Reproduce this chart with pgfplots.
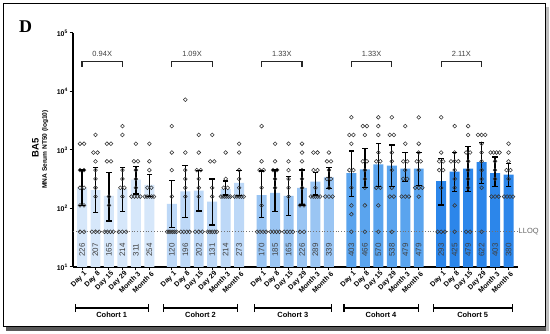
\documentclass[border=0pt]{standalone}
\usepackage{pgfplots}
\pgfplotsset{compat=1.18}
\usepackage{fontspec}
\setmainfont{Liberation Sans}
\newfontfamily\serifD{Liberation Serif}
\usetikzlibrary{arrows.meta}
\definecolor{cA}{HTML}{D6E7FA}
\definecolor{cB}{HTML}{BDD8F7}
\definecolor{cC}{HTML}{9AC5F3}
\definecolor{cD}{HTML}{5AA4EE}
\definecolor{cE}{HTML}{2C86EA}
\begin{document}
\begin{tikzpicture}
\useasboundingbox (0bp,0bp) rectangle (550bp,334bp);
\fill[black!65] (6bp,3bp) rectangle (548bp,7bp);
\fill[black!25] (545.5bp,3bp) rectangle (548.5bp,327bp);
\draw[line width=1bp, fill=white] (3.5bp,7bp) rectangle (545.5bp,330bp);
\node[anchor=base west, font=\serifD\bfseries\fontsize{18}{18}\selectfont, inner sep=0pt] at (19bp,301bp) {D};
\node[rotate=90, font=\bfseries\fontsize{9.5}{10}\selectfont, inner sep=0pt] at (35.5bp,186bp) {BA5};
\node[rotate=90, font=\bfseries\fontsize{6.6}{7}\selectfont, inner sep=0pt] at (45.2bp,184.5bp) {MNA Serum NT50 (log10)};
\begin{axis}[
  at={(73bp,67bp)}, anchor=south west, scale only axis,
  width=445bp, height=234bp,
  ymode=log, ymin=10, ymax=100000, xmin=-0.67, xmax=32.37,
  log origin=infty,
  axis lines=left, axis line style={line width=1.3bp, -},
  clip=false, yminorticks=false,
  tick align=outside, major tick length=3.5bp,
  tick style={line width=1bp, black},
  ytick={10,100,1000,10000,100000},
  yticklabels={10\textsuperscript{1},10\textsuperscript{2},10\textsuperscript{3},10\textsuperscript{4},10\textsuperscript{5}},
  yticklabel style={font=\bfseries\fontsize{7}{8}\selectfont, inner sep=1.5bp},
  xtick={0,1,2,3,4,5,6.667,7.667,8.667,9.667,10.667,11.667,13.333,14.333,15.333,16.333,17.333,18.333,20,21,22,23,24,25,26.667,27.667,28.667,29.667,30.667,31.667},
  xticklabels={Day 1,Day 8,Day 15,Day 29,Month 3,Month 6,Day 1,Day 8,Day 15,Day 29,Month 3,Month 6,Day 1,Day 8,Day 15,Day 29,Month 3,Month 6,Day 1,Day 8,Day 15,Day 29,Month 3,Month 6,Day 1,Day 8,Day 15,Day 29,Month 3,Month 6},
  xticklabel style={rotate=45, anchor=north east, font=\bfseries\fontsize{7}{8}\selectfont, inner sep=1bp, xshift=2bp},
]
% bars
\addplot[ybar, bar width=0.74, bar shift=0pt, fill=cA, draw=none] coordinates {(0,226) (1,207) (2,165) (3,214) (4,311) (5,254)};
\addplot[ybar, bar width=0.74, bar shift=0pt, fill=cB, draw=none] coordinates {(6.667,120) (7.667,196) (8.667,202) (9.667,131) (10.667,214) (11.667,273)};
\addplot[ybar, bar width=0.74, bar shift=0pt, fill=cC, draw=none] coordinates {(13.333,170) (14.333,185) (15.333,165) (16.333,226) (17.333,289) (18.333,339)};
\addplot[ybar, bar width=0.74, bar shift=0pt, fill=cD, draw=none] coordinates {(20,403) (21,466) (22,570) (23,538) (24,479) (25,479)};
\addplot[ybar, bar width=0.74, bar shift=0pt, fill=cE, draw=none] coordinates {(26.667,293) (27.667,425) (28.667,479) (29.667,622) (30.667,403) (31.667,380)};
% LLOQ
\addplot[black!55, dotted, line width=0.8bp] coordinates {(-0.67,40) (32.37,40)};
\node[anchor=west, inner sep=0.5bp, font=\fontsize{7.5}{8}\selectfont, text=black!60] at (axis cs:32.37,40) {LLOQ};
% individual points
\pgfplotsset{every axis plot/.append style={}}
\addplot[only marks, mark=o, mark size=1.9bp, mark options={line width=0.55bp, draw=black!80}] coordinates {
(-0.15,1280)(0.15,1280)(-0.15,453)(0.15,453)(-0.15,226)(0.15,226)(-0.15,113)(0.15,113)(-0.15,40)(0.15,40)
(1,1810)(0.85,905)(1.15,905)(1,640)(1,453)(1,320)(1,226)(1,160)(0.73,40)(1,40)(1.27,40)
(1.85,1280)(2.15,1280)(1.85,640)(2.15,640)(2,160)(2,113)(1.67,40)(1.89,40)(2.11,40)(2.33,40)
(3,2560)(3,1810)(3,453)(3,320)(2.85,226)(3.15,226)(3,160)(2.73,40)(3,40)(3.27,40)
(4,1280)(3.85,640)(4.15,640)(4,453)(4,320)(4,226)(3.67,160)(3.89,160)(4.11,160)(4.33,160)
(5,1280)(5,640)(5,453)(4.85,226)(5.15,226)(4.66,160)(4.83,160)(5,160)(5.17,160)(5.34,160)
};
\addplot[only marks, mark=o, mark size=1.9bp, mark options={line width=0.55bp, draw=black!80}] coordinates {
(6.667,2560)(6.667,905)(6.667,453)(6.667,160)(6.317,40)(6.457,40)(6.597,40)(6.737,40)(6.877,40)(7.017,40)
(7.667,7240)(7.667,905)(7.667,453)(7.667,320)(7.667,226)(7.667,160)(7.337,40)(7.557,40)(7.777,40)(7.997,40)
(8.667,1810)(8.667,905)(8.517,453)(8.817,453)(8.667,320)(8.667,226)(8.667,160)(8.397,40)(8.667,40)(8.937,40)
(9.667,1810)(9.517,640)(9.817,640)(9.667,226)(9.667,160)(9.327,40)(9.497,40)(9.667,40)(9.837,40)(10.007,40)
(10.667,905)(10.667,320)(10.517,226)(10.817,226)(10.317,160)(10.457,160)(10.597,160)(10.737,160)(10.877,160)(11.017,160)
(11.667,1280)(11.667,905)(11.667,453)(11.667,320)(11.667,226)(11.327,160)(11.497,160)(11.667,160)(11.837,160)(12.007,160)
};
\addplot[only marks, mark=o, mark size=1.9bp, mark options={line width=0.55bp, draw=black!80}] coordinates {
(13.333,2560)(13.333,640)(13.183,453)(13.483,453)(13.333,226)(13.333,113)(13.003,40)(13.223,40)(13.443,40)(13.663,40)
(14.333,1280)(14.333,640)(14.183,453)(14.483,453)(14.333,320)(14.333,226)(14.003,40)(14.223,40)(14.443,40)(14.663,40)
(15.333,1280)(15.333,640)(15.333,453)(15.333,320)(15.333,226)(15.333,160)(15.003,40)(15.223,40)(15.443,40)(15.663,40)
(16.333,1280)(16.333,905)(16.333,640)(16.333,453)(16.333,320)(16.333,226)(16.183,113)(16.483,113)(16.183,40)(16.483,40)
(17.183,905)(17.483,905)(17.183,453)(17.483,453)(17.333,226)(16.993,160)(17.163,160)(17.333,160)(17.503,160)(17.673,160)
(18.333,905)(18.183,640)(18.483,640)(18.333,453)(18.183,320)(18.483,320)(18.333,226)(18.063,160)(18.333,160)(18.603,160)
};
\addplot[only marks, mark=o, mark size=1.9bp, mark options={line width=0.55bp, draw=black!80}] coordinates {
(20,3620)(19.85,1810)(20.15,1810)(20,1280)(19.85,453)(20.15,453)(20,226)(20,113)(20,80)(20,40)
(20.85,2560)(21.15,2560)(21,1810)(20.85,640)(21.15,640)(21,453)(21,320)(21,226)(21,113)(21,40)
(22,3620)(22,2560)(22,1810)(22,905)(21.85,640)(22.15,640)(21.85,226)(22.15,226)(22,113)(22,40)
(23,3620)(22.85,1810)(23.15,1810)(23,905)(23,640)(23,453)(23,226)(22.85,160)(23.15,160)(23,40)
(24,2560)(24,1280)(23.85,640)(24.15,640)(24,453)(23.85,320)(24.15,320)(23.73,160)(24,160)(24.27,160)
(25,3620)(25,1280)(25,905)(24.85,640)(25.15,640)(25,453)(24.73,226)(25,226)(25.27,226)(25,160)
};
\addplot[only marks, mark=o, mark size=1.9bp, mark options={line width=0.55bp, draw=black!80}] coordinates {
(26.667,3620)(26.667,905)(26.517,640)(26.817,640)(26.517,453)(26.817,453)(26.667,226)(26.397,40)(26.667,40)(26.937,40)
(27.667,2560)(27.667,905)(27.397,640)(27.667,640)(27.937,640)(27.667,453)(27.667,320)(27.667,226)(27.667,113)(27.667,40)
(28.667,2560)(28.667,1810)(28.517,905)(28.817,905)(28.667,640)(28.667,453)(28.667,320)(28.667,226)(28.517,40)(28.817,40)
(29.397,1810)(29.667,1810)(29.937,1810)(29.667,1280)(29.667,905)(29.667,640)(29.667,453)(29.667,320)(29.667,226)(29.667,40)
(30.337,905)(30.557,905)(30.777,905)(30.997,905)(30.667,640)(30.667,453)(30.667,320)(30.397,160)(30.667,160)(30.937,160)
(31.667,1280)(31.667,905)(31.667,640)(31.517,453)(31.817,453)(31.667,320)(31.337,160)(31.557,160)(31.777,160)(31.997,160)
};
% error bars
\pgfplotsset{eb/.style={black, line width=1.3bp, mark=-, mark size=2.8bp, mark options={line width=1.3bp, solid}}}
\addplot[eb] coordinates {(0,113) (0,455)};
\addplot[eb] coordinates {(1,85) (1,498)};
\addplot[eb] coordinates {(2,61) (2,416)};
\addplot[eb] coordinates {(3,88) (3,498)};
\addplot[eb] coordinates {(4,177) (4,519)};
\addplot[eb] coordinates {(5,160) (5,384)};
\addplot[eb] coordinates {(6.667,47) (6.667,303)};
\addplot[eb] coordinates {(7.667,70) (7.667,537)};
\addplot[eb] coordinates {(8.667,91) (8.667,451)};
\addplot[eb] coordinates {(9.667,52) (9.667,320)};
\addplot[eb] coordinates {(10.667,170) (10.667,295)};
\addplot[eb] coordinates {(11.667,166) (11.667,451)};
\addplot[eb] coordinates {(13.333,70) (13.333,437)};
\addplot[eb] coordinates {(14.333,88) (14.333,453)};
\addplot[eb] coordinates {(15.333,75) (15.333,350)};
\addplot[eb] coordinates {(16.333,115) (16.333,453)};
\addplot[eb] coordinates {(17.333,170) (17.333,416)};
\addplot[eb] coordinates {(18.333,221) (18.333,499)};
\addplot[eb] coordinates {(20,160) (20,961)};
\addplot[eb] coordinates {(21,230) (21,1070)};
\addplot[eb] coordinates {(22,240) (22,1300)};
\addplot[eb] coordinates {(23,236) (23,1216)};
\addplot[eb] coordinates {(24,290) (24,905)};
\addplot[eb] coordinates {(25,245) (25,905)};
\addplot[eb] coordinates {(26.667,115) (26.667,721)};
\addplot[eb] coordinates {(27.667,194) (27.667,905)};
\addplot[eb] coordinates {(28.667,194) (28.667,1137)};
\addplot[eb] coordinates {(29.667,269) (29.667,1333)};
\addplot[eb] coordinates {(30.667,240) (30.667,760)};
\addplot[eb] coordinates {(31.667,236) (31.667,593)};
% value labels
\addplot[draw=none, mark=none, point meta=explicit symbolic, nodes near coords,
  every node near coord/.append style={rotate=90, anchor=center, font=\fontsize{8}{8}\selectfont, text=black!75, inner sep=0pt}]
coordinates {(0,19.5)[226] (1,19.5)[207] (2,19.5)[165] (3,19.5)[214] (4,19.5)[311] (5,19.5)[254]
(6.667,19.5)[120] (7.667,19.5)[196] (8.667,19.5)[202] (9.667,19.5)[131] (10.667,19.5)[214] (11.667,19.5)[273]
(13.333,19.5)[170] (14.333,19.5)[185] (15.333,19.5)[165] (16.333,19.5)[226] (17.333,19.5)[289] (18.333,19.5)[339]
(20,19.5)[403] (21,19.5)[466] (22,19.5)[570] (23,19.5)[538] (24,19.5)[479] (25,19.5)[479]
(26.667,19.5)[293] (27.667,19.5)[425] (28.667,19.5)[479] (29.667,19.5)[622] (30.667,19.5)[403] (31.667,19.5)[380]};
% fold-change brackets
\draw[line width=1.3bp, black!85] (axis cs:0,26500) |- (axis cs:3,32300) -- (axis cs:3,26500);
\draw[line width=1.3bp, black!85] (axis cs:6.667,26500) |- (axis cs:9.667,32300) -- (axis cs:9.667,26500);
\draw[line width=1.3bp, black!85] (axis cs:13.333,26500) |- (axis cs:16.333,32300) -- (axis cs:16.333,26500);
\draw[line width=1.3bp, black!85] (axis cs:20,26500) |- (axis cs:23,32300) -- (axis cs:23,26500);
\draw[line width=1.3bp, black!85] (axis cs:26.667,26500) |- (axis cs:29.667,32300) -- (axis cs:29.667,26500);
\node[font=\fontsize{7.5}{8}\selectfont, text=black!75] at (axis cs:1.5,43500) {0.94X};
\node[font=\fontsize{7.5}{8}\selectfont, text=black!75] at (axis cs:8.167,43500) {1.09X};
\node[font=\fontsize{7.5}{8}\selectfont, text=black!75] at (axis cs:14.833,43500) {1.33X};
\node[font=\fontsize{7.5}{8}\selectfont, text=black!75] at (axis cs:21.5,43500) {1.33X};
\node[font=\fontsize{7.5}{8}\selectfont, text=black!75] at (axis cs:28.167,43500) {2.11X};
% cohort brackets
\draw[line width=1.2bp, {Bar[width=8bp]}-{Bar[width=8bp]}] (axis cs:-0.55,1.99) -- (axis cs:5.0,1.99);
\draw[line width=1.2bp, {Bar[width=8bp]}-{Bar[width=8bp]}] (axis cs:6.0,1.99) -- (axis cs:11.6,1.99);
\draw[line width=1.2bp, {Bar[width=8bp]}-{Bar[width=8bp]}] (axis cs:12.75,1.99) -- (axis cs:18.55,1.99);
\draw[line width=1.2bp, {Bar[width=8bp]}-{Bar[width=8bp]}] (axis cs:19.4,1.99) -- (axis cs:25.0,1.99);
\draw[line width=1.2bp, {Bar[width=8bp]}-{Bar[width=8bp]}] (axis cs:26.05,1.99) -- (axis cs:32.0,1.99);
\node[font=\bfseries\fontsize{7.5}{8}\selectfont] at (axis cs:2.2,1.5) {Cohort 1};
\node[font=\bfseries\fontsize{7.5}{8}\selectfont] at (axis cs:8.8,1.5) {Cohort 2};
\node[font=\bfseries\fontsize{7.5}{8}\selectfont] at (axis cs:15.65,1.5) {Cohort 3};
\node[font=\bfseries\fontsize{7.5}{8}\selectfont] at (axis cs:22.2,1.5) {Cohort 4};
\node[font=\bfseries\fontsize{7.5}{8}\selectfont] at (axis cs:29.0,1.5) {Cohort 5};
\end{axis}
\end{tikzpicture}
\end{document}
